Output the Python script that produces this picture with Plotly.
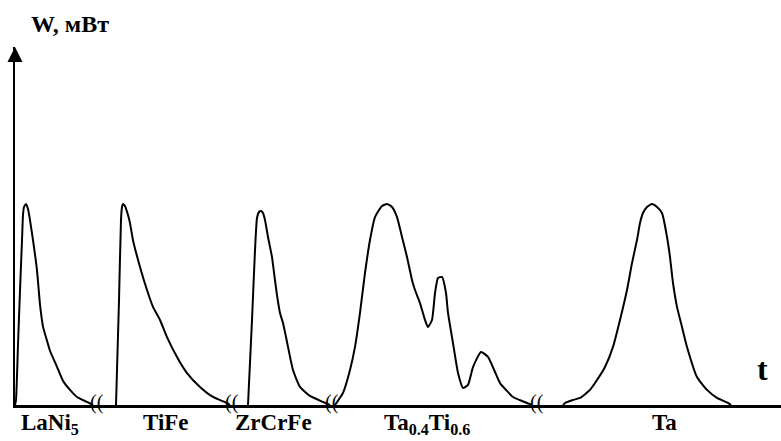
import plotly.graph_objects as go

# Heat-flow curves W(t) for hydrogen absorption in five alloys (arbitrary time units, W normalised)
t_lani5 = [0, 1, 3, 5, 7, 8, 9, 11, 13, 15, 18, 22, 25, 28, 32, 35, 42, 48, 55, 62, 72, 78]
w_lani5 = [0, 0.025, 0.30, 0.57, 0.82, 0.945, 0.985, 1.0, 0.975, 0.92, 0.82, 0.67, 0.50, 0.39,
           0.32, 0.27, 0.19, 0.12, 0.075, 0.04, 0.015, 0]

t_tife = [101, 104, 106, 107, 108, 110, 113, 115, 118, 125, 132, 138, 145, 152, 162, 172, 185, 198, 212, 215]
w_tife = [0, 0.52, 0.92, 0.985, 1.0, 0.99, 0.945, 0.905, 0.82, 0.687, 0.572, 0.488, 0.423, 0.338,
          0.239, 0.159, 0.09, 0.04, 0.01, 0]

t_zrcrfe = [233, 237, 240, 242, 244, 246, 248, 250, 253, 257, 260, 262, 265, 268, 271, 273, 278,
            285, 295, 308, 315]
w_zrcrfe = [0, 0.423, 0.77, 0.93, 0.96, 0.965, 0.955, 0.92, 0.836, 0.736, 0.62, 0.547, 0.458, 0.408,
            0.338, 0.289, 0.174, 0.09, 0.045, 0.015, 0]

t_tati = [320, 328, 335, 340, 345, 350, 355, 360, 367, 372, 377, 382, 387, 392, 397, 400, 405, 410,
          413, 417, 420, 423, 427, 431, 433, 438, 443, 448, 453, 458, 466, 473, 480, 485, 492, 498,
          507, 517]
w_tati = [0, 0.06, 0.174, 0.289, 0.458, 0.657, 0.821, 0.935, 0.99, 1.0, 0.985, 0.935, 0.836, 0.736,
          0.622, 0.572, 0.507, 0.423, 0.388, 0.423, 0.557, 0.632, 0.637, 0.557, 0.458, 0.308, 0.159,
          0.085, 0.10, 0.189, 0.264, 0.239, 0.164, 0.109, 0.07, 0.04, 0.02, 0]

t_ta = [548, 550, 558, 565, 575, 582, 590, 598, 605, 612, 617, 622, 625, 628, 632, 637, 642, 647,
        652, 655, 658, 662, 667, 672, 682, 692, 702, 713, 716]
w_ta = [0, 0.01, 0.025, 0.035, 0.075, 0.124, 0.189, 0.289, 0.423, 0.572, 0.706, 0.821, 0.905, 0.955,
        0.985, 1.0, 0.985, 0.955, 0.836, 0.736, 0.607, 0.488, 0.388, 0.289, 0.139, 0.075, 0.035,
        0.01, 0]

# Sample names and where each is centred on the time axis
sample_labels = ["LaNi<sub>5</sub>", "TiFe", "ZrCrFe", "Ta<sub>0.4</sub>Ti<sub>0.6</sub>", "Ta"]
label_t = [35, 151, 258, 412, 649]

# Time-axis break positions
break_t = [82, 217, 317, 522]

T_MAX = 766
W_MAX = 1.781
FONT = "Liberation Serif"

fig = go.Figure()
for t, w in [(t_lani5, w_lani5), (t_tife, w_tife), (t_zrcrfe, w_zrcrfe),
             (t_tati, w_tati), (t_ta, w_ta)]:
    fig.add_trace(go.Scatter(
        x=t, y=w, mode="lines",
        line=dict(color="black", width=2, shape="spline", smoothing=0.5),
        hoverinfo="skip", showlegend=False,
    ))

# Arrow head on top of the W axis
fig.add_trace(go.Scatter(
    x=[0], y=[W_MAX], mode="markers", cliponaxis=False,
    marker=dict(symbol="arrow-up", size=15, color="black", line=dict(width=0)),
    hoverinfo="skip", showlegend=False,
))

annotations = []
# Axis titles
annotations.append(dict(
    x=0, y=1, xref="paper", yref="paper", xanchor="left", yanchor="bottom",
    xshift=14, yshift=8, showarrow=False,
    text="<b>W, мВт</b>", font=dict(family=FONT, size=24, color="black"),
))
annotations.append(dict(
    x=1, y=0, xref="paper", yref="paper", xanchor="right", yanchor="bottom",
    xshift=-11, yshift=16, showarrow=False,
    text="<b>t</b>", font=dict(family=FONT, size=32, color="black"),
))
# Sample labels under the time axis
for lab, xt in zip(sample_labels, label_t):
    annotations.append(dict(
        x=xt, y=0, xref="x", yref="paper", xanchor="center", yanchor="top",
        yshift=-3, showarrow=False,
        text="<b>" + lab + "</b>", font=dict(family=FONT, size=23, color="black"),
    ))
# Break marks on the time axis
for xb in break_t:
    annotations.append(dict(
        x=xb, y=0, xref="x", yref="y", xanchor="center", yanchor="middle",
        yshift=3, showarrow=False,
        text="((", font=dict(family=FONT, size=20, color="black"),
    ))

fig.update_layout(
    width=781, height=441,
    margin=dict(l=15, r=0, t=47, b=36),
    paper_bgcolor="white", plot_bgcolor="white",
    xaxis=dict(range=[0, T_MAX], showgrid=False, zeroline=False, showticklabels=False,
               ticks="", showline=True, linecolor="black", linewidth=3, mirror=False),
    yaxis=dict(range=[0, W_MAX], showgrid=False, zeroline=False, showticklabels=False,
               ticks="", showline=True, linecolor="black", linewidth=2, mirror=False),
    annotations=annotations,
)

fig.write_html("out.html")
